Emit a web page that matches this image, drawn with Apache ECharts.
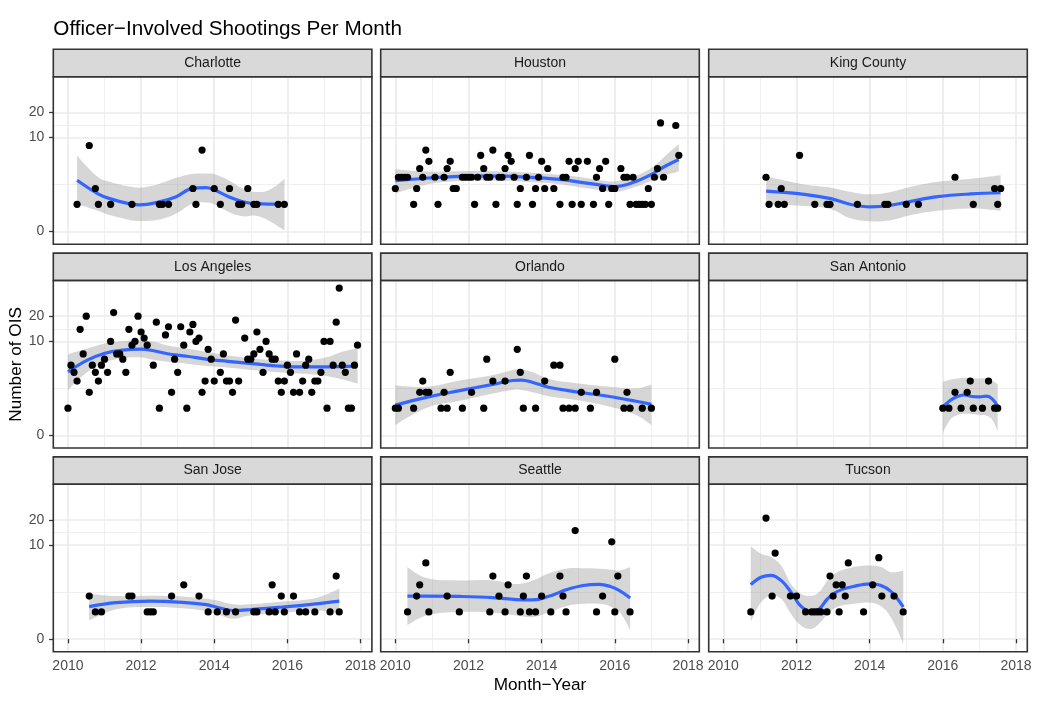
<!DOCTYPE html>
<html>
<head>
<meta charset="utf-8">
<script src="https://cdn.jsdelivr.net/npm/echarts@6/dist/echarts.min.js"></script>
<style>html,body{margin:0;padding:0;background:#fff}#c{width:1054px;height:716px}</style>
</head>
<body>
<div id="c"></div>
<script>
// ---------------- data ----------------
const panelNames = ['Charlotte', 'Houston', 'King County', 'Los Angeles', 'Orlando', 'San Antonio', 'San Jose', 'Seattle', 'Tucson'];
const xBreaks = [2010, 2012, 2014, 2016, 2018];
const xMinorBreaks = [2011, 2013, 2015, 2017];
const yBreaks = [0, 10, 20];

// points: month index (months since Jan 2010) and number of OIS in that month
const charlotteMonths = [3, 7, 9, 10, 14, 21, 30, 31, 33, 41, 42, 44, 48, 50, 53, 56, 57, 59, 61, 62, 69, 71];
const charlotteCounts = [1, 8, 2, 1, 1, 1, 1, 1, 1, 2, 1, 7, 2, 1, 2, 1, 1, 2, 1, 1, 1, 1];
const houstonMonths = [0, 1, 2, 3, 4, 6, 7, 8, 9, 10, 11, 13, 14, 16, 17, 18, 19, 20, 22, 23, 24, 25, 26, 27, 28, 29, 30, 31, 32, 33, 34, 35, 36, 37, 38, 39, 40, 41, 43, 44, 45, 46, 47, 48, 49, 50, 52, 54, 55, 56, 57, 58, 59, 60, 61, 63, 65, 66, 67, 68, 69, 70, 71, 72, 74, 75, 76, 77, 78, 79, 80, 81, 82, 83, 84, 85, 86, 87, 88, 92, 93];
const houstonCounts = [2, 3, 3, 3, 3, 1, 2, 4, 3, 7, 5, 3, 1, 3, 4, 5, 2, 2, 3, 3, 3, 3, 1, 3, 6, 4, 3, 3, 7, 1, 3, 3, 4, 6, 5, 3, 1, 2, 3, 6, 1, 2, 3, 5, 2, 4, 2, 1, 3, 3, 5, 1, 4, 5, 1, 5, 1, 3, 4, 2, 5, 1, 2, 2, 4, 3, 3, 1, 3, 1, 1, 1, 1, 2, 1, 3, 4, 15, 3, 14, 6];
const kingMonths = [14, 15, 18, 19, 20, 25, 30, 34, 35, 44, 53, 54, 60, 64, 76, 82, 89, 90, 91];
const kingCounts = [3, 1, 1, 2, 1, 6, 1, 1, 1, 1, 1, 1, 1, 1, 3, 1, 2, 1, 2];
const laMonths = [0, 1, 2, 3, 4, 5, 6, 7, 8, 9, 10, 11, 12, 13, 14, 15, 16, 17, 18, 19, 20, 21, 22, 23, 24, 25, 26, 28, 29, 30, 32, 33, 34, 35, 36, 37, 38, 39, 40, 41, 42, 43, 44, 45, 46, 47, 48, 50, 51, 52, 53, 54, 55, 56, 58, 59, 60, 61, 62, 63, 64, 65, 66, 67, 68, 69, 70, 71, 72, 73, 74, 75, 76, 77, 78, 79, 80, 81, 82, 83, 84, 85, 86, 87, 88, 89, 90, 91, 92, 93, 94, 95];
const laCounts = [1, 5, 4, 3, 14, 7, 20, 2, 5, 4, 3, 5, 6, 4, 10, 22, 7, 7, 6, 4, 14, 9, 10, 20, 13, 11, 9, 5, 17, 1, 12, 15, 2, 6, 4, 15, 9, 1, 13, 16, 10, 11, 2, 3, 8, 6, 3, 4, 7, 3, 3, 2, 18, 3, 11, 6, 6, 7, 13, 8, 4, 10, 7, 6, 6, 3, 2, 3, 5, 4, 2, 7, 2, 3, 5, 6, 2, 3, 3, 4, 10, 1, 10, 5, 17, 42, 5, 4, 1, 1, 5, 9];
const orlandoMonths = [0, 1, 6, 8, 9, 10, 11, 15, 16, 17, 18, 22, 25, 29, 30, 32, 36, 40, 41, 42, 46, 49, 52, 54, 55, 57, 59, 61, 64, 66, 72, 75, 76, 77, 81, 84];
const orlandoCounts = [1, 1, 1, 2, 3, 2, 2, 1, 2, 1, 4, 1, 2, 1, 6, 3, 3, 8, 4, 1, 1, 3, 5, 5, 1, 1, 1, 2, 1, 2, 6, 1, 2, 1, 1, 1];
const sanAntonioMonths = [72, 74, 76, 78, 80, 81, 82, 85, 87, 89, 90];
const sanAntonioCounts = [1, 1, 2, 1, 2, 3, 1, 1, 3, 1, 1];
const sanJoseMonths = [7, 9, 11, 20, 21, 26, 27, 28, 34, 38, 43, 46, 49, 52, 55, 61, 62, 66, 67, 68, 70, 71, 74, 76, 78, 81, 86, 88, 89];
const sanJoseCounts = [2, 1, 1, 2, 2, 1, 1, 1, 2, 3, 2, 1, 1, 1, 1, 1, 1, 1, 3, 1, 2, 1, 2, 1, 1, 1, 1, 4, 1];
const seattleMonths = [4, 7, 8, 10, 11, 17, 21, 31, 32, 34, 36, 37, 41, 42, 43, 44, 46, 48, 51, 54, 55, 56, 59, 66, 68, 71, 72, 73, 77];
const seattleCounts = [1, 2, 3, 6, 1, 2, 1, 1, 4, 2, 1, 3, 1, 2, 4, 1, 1, 2, 1, 4, 2, 1, 15, 1, 2, 11, 1, 4, 1];
const tucsonMonths = [9, 14, 16, 17, 22, 24, 27, 29, 30, 31, 32, 34, 35, 36, 37, 38, 39, 40, 41, 46, 49, 51, 52, 56, 59];
const tucsonCounts = [1, 21, 2, 8, 2, 2, 1, 1, 1, 1, 1, 1, 4, 2, 3, 1, 3, 2, 6, 1, 3, 7, 2, 2, 1];

// smoother, on the log(1 + count) scale: x (year), fit, lower and upper band
const charlotteFitX = [2010.25, 2010.81, 2011.14, 2011.72, 2011.96, 2012.47, 2012.96, 2013.40, 2013.78, 2013.98, 2014.39, 2014.78, 2015.14, 2015.50, 2015.92];
const charlotteFit = [1.31, 0.97, 0.84, 0.70, 0.68, 0.75, 0.89, 1.10, 1.12, 1.07, 0.89, 0.76, 0.71, 0.70, 0.70];
const charlotteLo = [0.70, 0.53, 0.42, 0.29, 0.27, 0.30, 0.46, 0.71, 0.74, 0.70, 0.50, 0.39, 0.40, 0.27, 0.03];
const charlotteHi = [1.94, 1.40, 1.27, 1.14, 1.12, 1.21, 1.37, 1.47, 1.48, 1.47, 1.31, 1.10, 1.01, 1.06, 1.35];
const houstonFitX = [2010.00, 2010.85, 2011.76, 2012.67, 2013.58, 2014.49, 2015.13, 2015.67, 2015.99, 2016.49, 2017.04, 2017.40, 2017.75];
const houstonFit = [1.30, 1.36, 1.41, 1.42, 1.39, 1.33, 1.25, 1.18, 1.15, 1.25, 1.48, 1.68, 1.84];
const houstonLo = [0.97, 1.20, 1.29, 1.30, 1.27, 1.21, 1.12, 1.05, 1.01, 1.12, 1.31, 1.44, 1.53];
const houstonHi = [1.59, 1.53, 1.54, 1.54, 1.51, 1.45, 1.38, 1.30, 1.28, 1.39, 1.65, 1.95, 2.23];
const kingFitX = [2011.17, 2012.21, 2012.94, 2013.49, 2014.03, 2014.58, 2015.13, 2015.86, 2016.77, 2017.58];
const kingFit = [1.03, 0.95, 0.84, 0.69, 0.63, 0.67, 0.77, 0.89, 0.96, 0.99];
const kingLo = [0.69, 0.65, 0.57, 0.33, 0.26, 0.29, 0.42, 0.53, 0.59, 0.53];
const kingHi = [1.41, 1.20, 1.12, 1.01, 0.95, 1.01, 1.14, 1.27, 1.35, 1.44];
const laFitX = [2010.00, 2010.53, 2010.99, 2011.44, 2012.00, 2012.34, 2012.80, 2013.25, 2013.82, 2014.37, 2014.82, 2015.27, 2015.73, 2016.18, 2016.63, 2017.09, 2017.54, 2017.92];
const laFit = [1.62, 1.92, 2.09, 2.17, 2.20, 2.16, 2.07, 2.02, 1.94, 1.89, 1.85, 1.81, 1.77, 1.75, 1.75, 1.75, 1.76, 1.77];
const laLo = [1.15, 1.62, 1.85, 1.96, 1.99, 1.93, 1.87, 1.83, 1.77, 1.73, 1.69, 1.65, 1.61, 1.58, 1.56, 1.51, 1.42, 1.32];
const laHi = [2.07, 2.22, 2.34, 2.40, 2.43, 2.39, 2.28, 2.22, 2.13, 2.04, 1.99, 1.94, 1.92, 1.90, 1.92, 2.00, 2.15, 2.22];
const orlandoFitX = [2010.00, 2010.85, 2011.76, 2012.67, 2013.21, 2013.44, 2013.76, 2014.22, 2014.95, 2015.86, 2016.58, 2017.00];
const orlandoFit = [0.77, 0.97, 1.14, 1.30, 1.40, 1.41, 1.35, 1.22, 1.11, 0.99, 0.87, 0.79];
const orlandoLo = [0.26, 0.70, 0.88, 1.07, 1.16, 1.16, 1.10, 0.99, 0.90, 0.73, 0.52, 0.26];
const orlandoHi = [1.28, 1.24, 1.40, 1.54, 1.67, 1.69, 1.61, 1.43, 1.33, 1.24, 1.20, 1.30];
const sanAntonioFitX = [2016.00, 2016.20, 2016.40, 2016.60, 2016.80, 2017.00, 2017.20, 2017.35, 2017.50];
const sanAntonioFit = [0.72, 0.89, 0.99, 1.03, 0.99, 0.98, 1.00, 0.93, 0.74];
const sanAntonioLo = [0.05, 0.40, 0.52, 0.55, 0.54, 0.52, 0.50, 0.40, 0.10];
const sanAntonioHi = [1.37, 1.42, 1.45, 1.47, 1.46, 1.45, 1.45, 1.40, 1.30];
const sanJoseFitX = [2010.58, 2011.32, 2012.23, 2013.14, 2013.78, 2014.05, 2014.51, 2014.96, 2015.87, 2016.78, 2017.42];
const sanJoseFit = [0.83, 0.93, 0.97, 0.94, 0.88, 0.82, 0.73, 0.75, 0.82, 0.90, 0.97];
const sanJoseLo = [0.47, 0.76, 0.82, 0.79, 0.72, 0.65, 0.52, 0.60, 0.67, 0.73, 0.66];
const sanJoseHi = [1.16, 1.10, 1.11, 1.09, 1.03, 0.99, 0.89, 0.89, 0.96, 1.05, 1.29];
const seattleFitX = [2010.33, 2010.85, 2011.76, 2012.67, 2013.31, 2013.76, 2014.22, 2014.67, 2015.13, 2015.58, 2015.86, 2016.13, 2016.42];
const seattleFit = [1.10, 1.10, 1.09, 1.06, 1.01, 1.00, 1.10, 1.26, 1.37, 1.40, 1.35, 1.24, 1.05];
const seattleLo = [0.35, 0.60, 0.69, 0.67, 0.60, 0.56, 0.69, 0.84, 0.90, 0.90, 0.84, 0.69, 0.22];
const seattleHi = [1.84, 1.56, 1.50, 1.50, 1.41, 1.50, 1.69, 1.80, 1.81, 1.80, 1.78, 1.75, 1.84];
const tucsonFitX = [2010.75, 2011.03, 2011.30, 2011.58, 2011.85, 2012.12, 2012.40, 2012.62, 2012.85, 2013.12, 2013.58, 2014.03, 2014.31, 2014.58, 2014.92];
const tucsonFit = [1.39, 1.58, 1.63, 1.50, 1.20, 0.84, 0.70, 0.77, 1.03, 1.22, 1.35, 1.41, 1.37, 1.22, 0.82];
const tucsonLo = [0.43, 0.94, 1.11, 1.03, 0.64, 0.35, 0.26, 0.39, 0.64, 0.82, 0.90, 0.93, 0.84, 0.56, -0.12];
const tucsonHi = [2.37, 2.18, 2.10, 1.88, 1.41, 1.16, 1.10, 1.20, 1.50, 1.71, 1.84, 1.88, 1.84, 1.71, 1.75];

const pointsByPanel = [
  [charlotteMonths, charlotteCounts], [houstonMonths, houstonCounts], [kingMonths, kingCounts],
  [laMonths, laCounts], [orlandoMonths, orlandoCounts], [sanAntonioMonths, sanAntonioCounts],
  [sanJoseMonths, sanJoseCounts], [seattleMonths, seattleCounts], [tucsonMonths, tucsonCounts]
];
const fitsByPanel = [
  [charlotteFitX, charlotteFit, charlotteLo, charlotteHi], [houstonFitX, houstonFit, houstonLo, houstonHi],
  [kingFitX, kingFit, kingLo, kingHi], [laFitX, laFit, laLo, laHi], [orlandoFitX, orlandoFit, orlandoLo, orlandoHi],
  [sanAntonioFitX, sanAntonioFit, sanAntonioLo, sanAntonioHi], [sanJoseFitX, sanJoseFit, sanJoseLo, sanJoseHi],
  [seattleFitX, seattleFit, seattleLo, seattleHi], [tucsonFitX, tucsonFit, tucsonLo, tucsonHi]
];

// ---------------- layout / style ----------------
const FONT = '"Liberation Sans", Arial, Helvetica, sans-serif';
const XMIN = 2009.6, XMAX = 2018.31, YMIN = -0.325, YMAX = 3.955;
const colLeft = [53.3, 380.7, 708.7], panelW = 318.6;
const rowTop = [76.7, 280.5, 484.3], panelH = 167.5, stripH = 27.4;
const SMOOTH = 0.4;
const yMajor = yBreaks.map(v => Math.log1p(v));
const yMinor = yMajor.slice(1).map((v, k) => (v + yMajor[k]) / 2);

function smoothPath(pts, s, start) {
  const n = pts.length, cpPrev = [], cpNext = [];
  for (let i = 0; i < n; i++) {
    const p = pts[i];
    if (i === 0 || i === n - 1) { cpPrev[i] = p; cpNext[i] = p; continue; }
    const a = pts[i - 1], b = pts[i + 1];
    const vx = b[0] - a[0], vy = b[1] - a[1];
    const d0 = Math.hypot(p[0] - a[0], p[1] - a[1]), d1 = Math.hypot(b[0] - p[0], b[1] - p[1]);
    const r0 = d0 / (d0 + d1), r1 = d1 / (d0 + d1);
    cpPrev[i] = [p[0] - vx * s * r0, p[1] - vy * s * r0];
    cpNext[i] = [p[0] + vx * s * r1, p[1] + vy * s * r1];
  }
  let d = (start ? 'M' : 'L') + pts[0][0].toFixed(2) + ',' + pts[0][1].toFixed(2);
  for (let i = 0; i < n - 1; i++) {
    const c1 = cpNext[i], c2 = cpPrev[i + 1], q = pts[i + 1];
    d += 'C' + [c1[0], c1[1], c2[0], c2[1], q[0], q[1]].map(v => v.toFixed(2)).join(',');
  }
  return d;
}

const grids = [], xAxes = [], yAxes = [], series = [], graphics = [];
panelNames.forEach((name, i) => {
  const r = Math.floor(i / 3), c = i % 3;
  const left = colLeft[c], top = rowTop[r];
  const isBottom = r === 2, isLeft = c === 0;
  grids.push({ left: left, top: top, width: panelW, height: panelH, containLabel: false, outerBoundsMode: 'none', show: false });

  xAxes.push({
    type: 'value', gridIndex: i, min: XMIN, max: XMAX, position: 'bottom',
    axisLine: { show: false },
    axisTick: { show: isBottom, customValues: xBreaks, length: 4.2, lineStyle: { color: '#333333', width: 1.3 } },
    axisLabel: { show: isBottom, customValues: xBreaks, margin: 7, color: '#4D4D4D', fontSize: 14, fontFamily: FONT,
      formatter: v => String(Math.round(v)) },
    splitLine: { show: true, lineStyle: { color: '#EBEBEB', width: 1.65 } }
  });
  xAxes.push({
    type: 'value', gridIndex: i, min: XMIN, max: XMAX, position: 'top',
    axisLine: { show: false },
    axisTick: { show: false, customValues: xMinorBreaks },
    axisLabel: { show: false, customValues: xMinorBreaks },
    splitLine: { show: true, lineStyle: { color: '#EBEBEB', width: 0.82 } }
  });
  yAxes.push({
    type: 'value', gridIndex: i, min: YMIN, max: YMAX, position: 'left',
    axisLine: { show: false },
    axisTick: { show: isLeft, customValues: yMajor, length: 4.2, lineStyle: { color: '#333333', width: 1.3 } },
    axisLabel: { show: isLeft, customValues: yMajor, margin: 9, color: '#4D4D4D', fontSize: 14, fontFamily: FONT,
      formatter: v => String(Math.round(Math.expm1(v))) },
    splitLine: { show: true, lineStyle: { color: '#EBEBEB', width: 1.65 } }
  });
  yAxes.push({
    type: 'value', gridIndex: i, min: YMIN, max: YMAX, position: 'right',
    axisLine: { show: false },
    axisTick: { show: false, customValues: yMinor },
    axisLabel: { show: false, customValues: yMinor },
    splitLine: { show: true, lineStyle: { color: '#EBEBEB', width: 0.82 } }
  });

  const [fx, fit, lo, hi] = fitsByPanel[i];
  series.push({
    type: 'custom', name: name + ' band', xAxisIndex: 2 * i, yAxisIndex: 2 * i, silent: true,
    data: [[fx[0], fit[0]]],
    renderItem: function (params, api) {
      const top = fx.map((x, k) => api.coord([x, hi[k]]));
      const bot = fx.map((x, k) => api.coord([x, lo[k]])).reverse();
      const d = smoothPath(top, SMOOTH, true) + smoothPath(bot, SMOOTH, false) + 'Z';
      return { type: 'path', shape: { pathData: d }, style: { fill: 'rgba(153,153,153,0.4)', stroke: null } };
    },
    z: 2
  });
  series.push({
    type: 'line', name: name + ' fit', xAxisIndex: 2 * i, yAxisIndex: 2 * i, silent: true,
    data: fx.map((x, k) => [x, fit[k]]), smooth: SMOOTH, showSymbol: false, symbol: 'none',
    lineStyle: { color: '#3366FF', width: 3.2 }, z: 3
  });
  const [months, counts] = pointsByPanel[i];
  series.push({
    type: 'scatter', name: name, xAxisIndex: 2 * i, yAxisIndex: 2 * i, silent: true,
    data: months.map((m, k) => [2010 + m / 12, Math.log1p(counts[k])]),
    symbol: 'circle', symbolSize: 7.2, itemStyle: { color: '#000000', opacity: 1 }, z: 4
  });

  graphics.push({ type: 'rect', z: 100, shape: { x: left, y: top - stripH, width: panelW, height: stripH },
    style: { fill: '#D9D9D9', stroke: '#333333', lineWidth: 1.6 } });
  graphics.push({ type: 'text', z: 101, x: left + panelW / 2, y: top - stripH / 2,
    style: { text: name, align: 'center', verticalAlign: 'middle', textAlign: 'center', textVerticalAlign: 'middle',
      fill: '#1A1A1A', fontSize: 14, fontFamily: FONT } });
  graphics.push({ type: 'rect', z: 100, shape: { x: left, y: top, width: panelW, height: panelH },
    style: { fill: 'none', stroke: '#333333', lineWidth: 1.6 } });
});

graphics.push({ type: 'text', z: 101, x: 16.7, y: 364.4, rotation: Math.PI / 2,
  style: { text: 'Number of OIS', align: 'center', verticalAlign: 'middle', textAlign: 'center', textVerticalAlign: 'middle',
    fill: '#000000', fontSize: 17.2, fontFamily: FONT } });
graphics.push({ type: 'text', z: 101, x: 540, y: 684.8,
  style: { text: 'Month\u2212Year', align: 'center', verticalAlign: 'middle', textAlign: 'center', textVerticalAlign: 'middle',
    fill: '#000000', fontSize: 17.2, fontFamily: FONT } });

const chart = echarts.init(document.getElementById('c'), null, { renderer: 'canvas', width: 1054, height: 716 });
chart.setOption({
  backgroundColor: '#ffffff',
  animation: false,
  title: { text: 'Officer\u2212Involved Shootings Per Month', left: 53.3, top: 18.4, padding: 0,
    textStyle: { fontSize: 20.7, fontWeight: 'normal', color: '#000000', fontFamily: FONT } },
  grid: grids,
  xAxis: xAxes,
  yAxis: yAxes,
  series: series,
  graphic: { elements: graphics }
});
</script>
</body>
</html>
